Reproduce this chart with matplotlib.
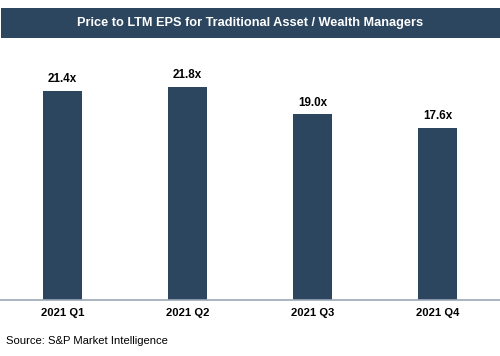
import matplotlib
matplotlib.use("Agg")
import matplotlib.pyplot as plt
from matplotlib.patches import Rectangle

plt.rcParams['font.family'] = ['Liberation Sans', 'DejaVu Sans']

# data
quarters = ["2021 Q1", "2021 Q2", "2021 Q3", "2021 Q4"]
pe_values = [21.4, 21.8, 19.0, 17.6]

navy = "#2c4660"
W, H = 500, 356

fig = plt.figure(figsize=(W / 100, H / 100), dpi=100)

# title banner
fig.patches.append(Rectangle((0.001, 1 - 38 / H), 0.998, 30 / H,
                             transform=fig.transFigure, facecolor=navy,
                             edgecolor="none"))
fig.text(0.5, 1 - 23 / H, "Price to LTM EPS for Traditional Asset / Wealth Managers",
         ha="center", va="center", color="white", fontsize=9.2, fontweight="bold")

ax = fig.add_axes([0, 1 - 300 / H, 1, 260 / H])
x = range(len(quarters))
bars = ax.bar(x, pe_values, width=0.31, color=navy)
for b, v in zip(bars, pe_values):
    ax.text(b.get_x() + b.get_width() / 2, v + 1.2, f"{v:.1f}x",
            ha="center", va="center", fontsize=8.4, fontweight="bold")

ax.set_xlim(-0.5, 3.5)
ax.set_ylim(0, 260 / 9.77)
ax.set_xticks(list(x))
ax.set_xticklabels(quarters, fontsize=8.1, fontweight="bold")
ax.tick_params(axis="x", length=0, pad=6)
ax.set_yticks([])
for s in ["top", "right", "left"]:
    ax.spines[s].set_visible(False)
ax.spines["bottom"].set_color("#9aa8b6")
ax.spines["bottom"].set_linewidth(1.2)

fig.text(6 / W, 1 - 341 / H, "Source: S&P Market Intelligence",
         ha="left", va="center", fontsize=8.1)

fig.savefig("out.png", dpi=100)
